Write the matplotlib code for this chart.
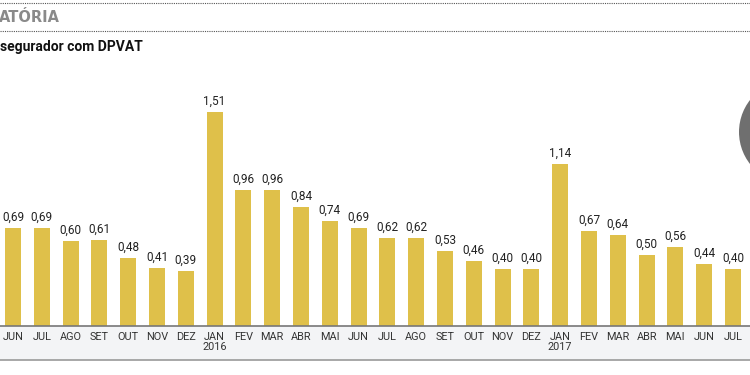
import matplotlib
matplotlib.use("Agg")
import matplotlib.pyplot as plt
from matplotlib.patches import Circle, Rectangle
from matplotlib.lines import Line2D

months = ["JUN", "JUL", "AGO", "SET", "OUT", "NOV", "DEZ", "JAN\n2016", "FEV", "MAR",
          "ABR", "MAI", "JUN", "JUL", "AGO", "SET", "OUT", "NOV", "DEZ", "JAN\n2017",
          "FEV", "MAR", "ABR", "MAI", "JUN", "JUL"]
values = [0.69, 0.69, 0.60, 0.61, 0.48, 0.41, 0.39, 1.51, 0.96, 0.96,
          0.84, 0.74, 0.69, 0.62, 0.62, 0.53, 0.46, 0.40, 0.40, 1.14,
          0.67, 0.64, 0.50, 0.56, 0.44, 0.40]
title = "ATÓRIA"
subtitle = "segurador com DPVAT"

plt.rcParams['font.family'] = ['Roboto', 'DejaVu Sans']

W, H = 750, 375
fig = plt.figure(figsize=(7.5, 3.75), dpi=100)
fig.patch.set_facecolor("white")

bg = fig.add_axes([0, 0, 1, 1])
bg.set_xlim(0, W)
bg.set_ylim(H, 0)
bg.axis("off")
bg.add_line(Line2D([0, W], [3, 3], color="#555555", lw=0.8, ls=(0, (1, 1))))
bg.add_line(Line2D([0, W], [31, 31], color="#555555", lw=0.8, ls=(0, (1, 1))))
bg.text(-1, 18, title, fontsize=10.5, fontweight="bold", color="#8a8a8a",
        va="center", ha="left", family=['DejaVu Sans'])
bg.text(0, 47, subtitle, fontsize=10, fontweight="bold", color="#111111",
        va="center", ha="left")
bg.add_patch(Rectangle((0, 326), W, 34, facecolor="#f3f4f6", edgecolor="none"))
bg.add_line(Line2D([0, W], [360, 360], color="#9a9a9a", lw=1.2))
bg.add_patch(Circle((791, 132), 52, facecolor="#6f6f6f", edgecolor="none"))

x0, dx = 13.0, 28.8
top_px, base_px = 60, 326
ax = fig.add_axes([0, 1 - base_px / H, 1, (base_px - top_px) / H])
ax.patch.set_alpha(0)
xs = list(range(len(values)))
ax.bar(xs, values, width=16 / dx, color="#dfc04a", zorder=2)
ax.set_xlim(-x0 / dx, (W - x0) / dx)
ax.set_ylim(0, (base_px - top_px) / 141.7)
for s in ["top", "right", "left"]:
    ax.spines[s].set_visible(False)
ax.spines["bottom"].set_color("#777777")
ax.spines["bottom"].set_linewidth(1.2)
ax.set_yticks([])
ax.set_xticks(xs)
ax.set_xticklabels(months, fontsize=7.8, color="#333333", linespacing=1.1)
ax.tick_params(axis="x", length=0, pad=4)
for x, v in zip(xs, values):
    ax.text(x, v + 0.03, f"{v:.2f}".replace(".", ","), ha="center", va="bottom",
            fontsize=8.5, color="#222222")

fig.savefig("out.png", dpi=100)
